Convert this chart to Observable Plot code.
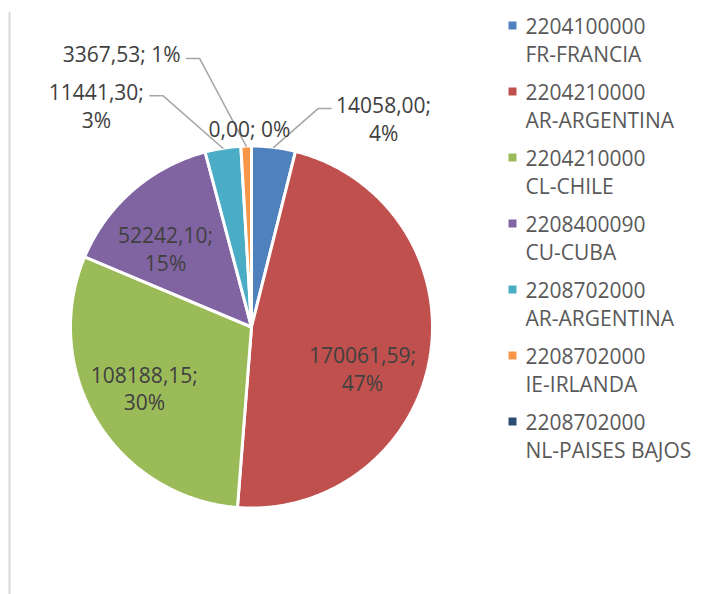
<!DOCTYPE html>
<html><head><meta charset="utf-8">
<script src="https://cdn.jsdelivr.net/npm/d3@7"></script>
<script src="https://cdn.jsdelivr.net/npm/@observablehq/plot@0.6"></script>
<style>body{margin:0;background:#fff}</style>
</head><body><div id="chart"></div>
<script>
// ---- data ----
const codes = ["2204100000","2204210000","2204210000","2208400090","2208702000","2208702000","2208702000"];
const countries = ["FR-FRANCIA","AR-ARGENTINA","CL-CHILE","CU-CUBA","AR-ARGENTINA","IE-IRLANDA","NL-PAISES BAJOS"];
const values = [14058.00, 170061.59, 108188.15, 52242.10, 11441.30, 3367.53, 0.00];
const valueLabels = ["14058,00","170061,59","108188,15","52242,10","11441,30","3367,53","0,00"];
const percentLabels = ["4%","47%","30%","15%","3%","1%","0%"];
const colors = ["#4F81BD","#C0504D","#9BBB59","#8064A2","#4BACC6","#F79646","#2C4D75"];

// ---- layout ----
const W = 707, H = 594;
const cx = 251, cy = 326.5, R = 181;
const FONT = "'Open Sans', 'Noto Sans', sans-serif";
const FS = 21, LH = 28;
// label placement: radius factor, angle offset from slice mid-angle (deg), wrap, leader
const labelLayout = [
  {r: 1.368, da: 25.2, wrap: true, leader: true},
  {r: 0.654, da: 11, wrap: true, leader: false},
  {r: 0.68, da: 1.9, wrap: true, leader: false},
  {r: 0.643, da: -6.6, wrap: true, leader: false},
  {r: 1.498, da: -25.8, wrap: true, leader: true},
  {r: 1.673, da: -23.7, wrap: false, leader: true},
  {r: 1.102, da: -0.6, wrap: false, leader: false}
];

const total = d3.sum(values);
const ctx = document.createElement("canvas").getContext("2d");
ctx.font = `${FS}px ${FONT}`;

const polys = [];
const labels = [];
const leaders = [];
let cum = 0;
values.forEach((v, i) => {
  const a0 = cum / total * 2 * Math.PI;
  cum += v;
  const a1 = cum / total * 2 * Math.PI;
  const pt = (a, r) => [cx + r * Math.sin(a), cy - r * Math.cos(a)];
  const n = Math.max(2, Math.ceil((a1 - a0) / (Math.PI / 360)));
  polys.push({id: i, x: cx, y: cy, color: colors[i]});
  for (let k = 0; k <= n; k++) {
    const [x, y] = pt(a0 + (a1 - a0) * k / n, R);
    polys.push({id: i, x, y, color: colors[i]});
  }
  polys.push({id: i, x: cx, y: cy, color: colors[i]});

  const mid = (a0 + a1) / 2;
  const L = labelLayout[i];
  const la = mid + L.da * Math.PI / 180;
  const [lx, ly] = pt(la, L.r * R);
  const line1 = valueLabels[i] + ";";
  const text = L.wrap ? line1 + "\n" + percentLabels[i] : line1 + " " + percentLabels[i];
  labels.push({x: lx, y: ly, text});
  if (L.leader) {
    const first = L.wrap ? line1 : text;
    const w = ctx.measureText(first).width;
    const line1y = L.wrap ? ly - LH / 2 : ly;
    const [ex, ey] = pt(mid, R);
    const right = lx > cx;
    const edge = right ? lx - w / 2 : lx + w / 2;
    const endX = right ? edge - 5 : edge + 6;
    const elbX = right ? edge - 18 : edge + 19;
    const yy = line1y + 5;
    leaders.push({id: i, x: ex, y: ey});
    leaders.push({id: i, x: elbX, y: yy});
    leaders.push({id: i, x: endX, y: yy});
  }
});

const legendX = 512, legendTextX = 525, legendY0 = 25, legendStep = 66;
const legend = codes.map((c, i) => ({
  x: legendX, tx: legendTextX, y: legendY0 + i * legendStep, color: colors[i],
  text: c + "\n" + countries[i]
}));

const chart = Plot.plot({
  width: W, height: H,
  margin: 0,
  x: {domain: [0, W], range: [0, W], axis: null},
  y: {domain: [0, H], range: [0, H], axis: null},
  style: {fontFamily: FONT, background: "#fff"},
  marks: [
    Plot.ruleX([9], {y1: 12, y2: H, stroke: "#d9d9d9", strokeWidth: 2}),
    Plot.line(polys, {x: "x", y: "y", z: "id", fill: "color", stroke: "white", strokeWidth: 3, strokeLinejoin: "miter", curve: "linear"}),
    Plot.line(leaders, {x: "x", y: "y", z: "id", stroke: "#a6a6a6", strokeWidth: 1.5, curve: "linear"}),
    Plot.text(labels, {x: "x", y: "y", text: "text", fill: "#404040", fontSize: FS, lineHeight: LH / FS, textAnchor: "middle"}),
    Plot.dot(legend, {x: "x", y: "y", fill: "color", symbol: "square", r: 4.5, stroke: null}),
    Plot.text(legend, {x: "tx", y: d => d.y + LH / 2, text: "text", fill: "#595959", fontSize: FS, lineHeight: LH / FS, textAnchor: "start"})
  ]
});
document.getElementById("chart").appendChild(chart);
</script>
</body></html>
